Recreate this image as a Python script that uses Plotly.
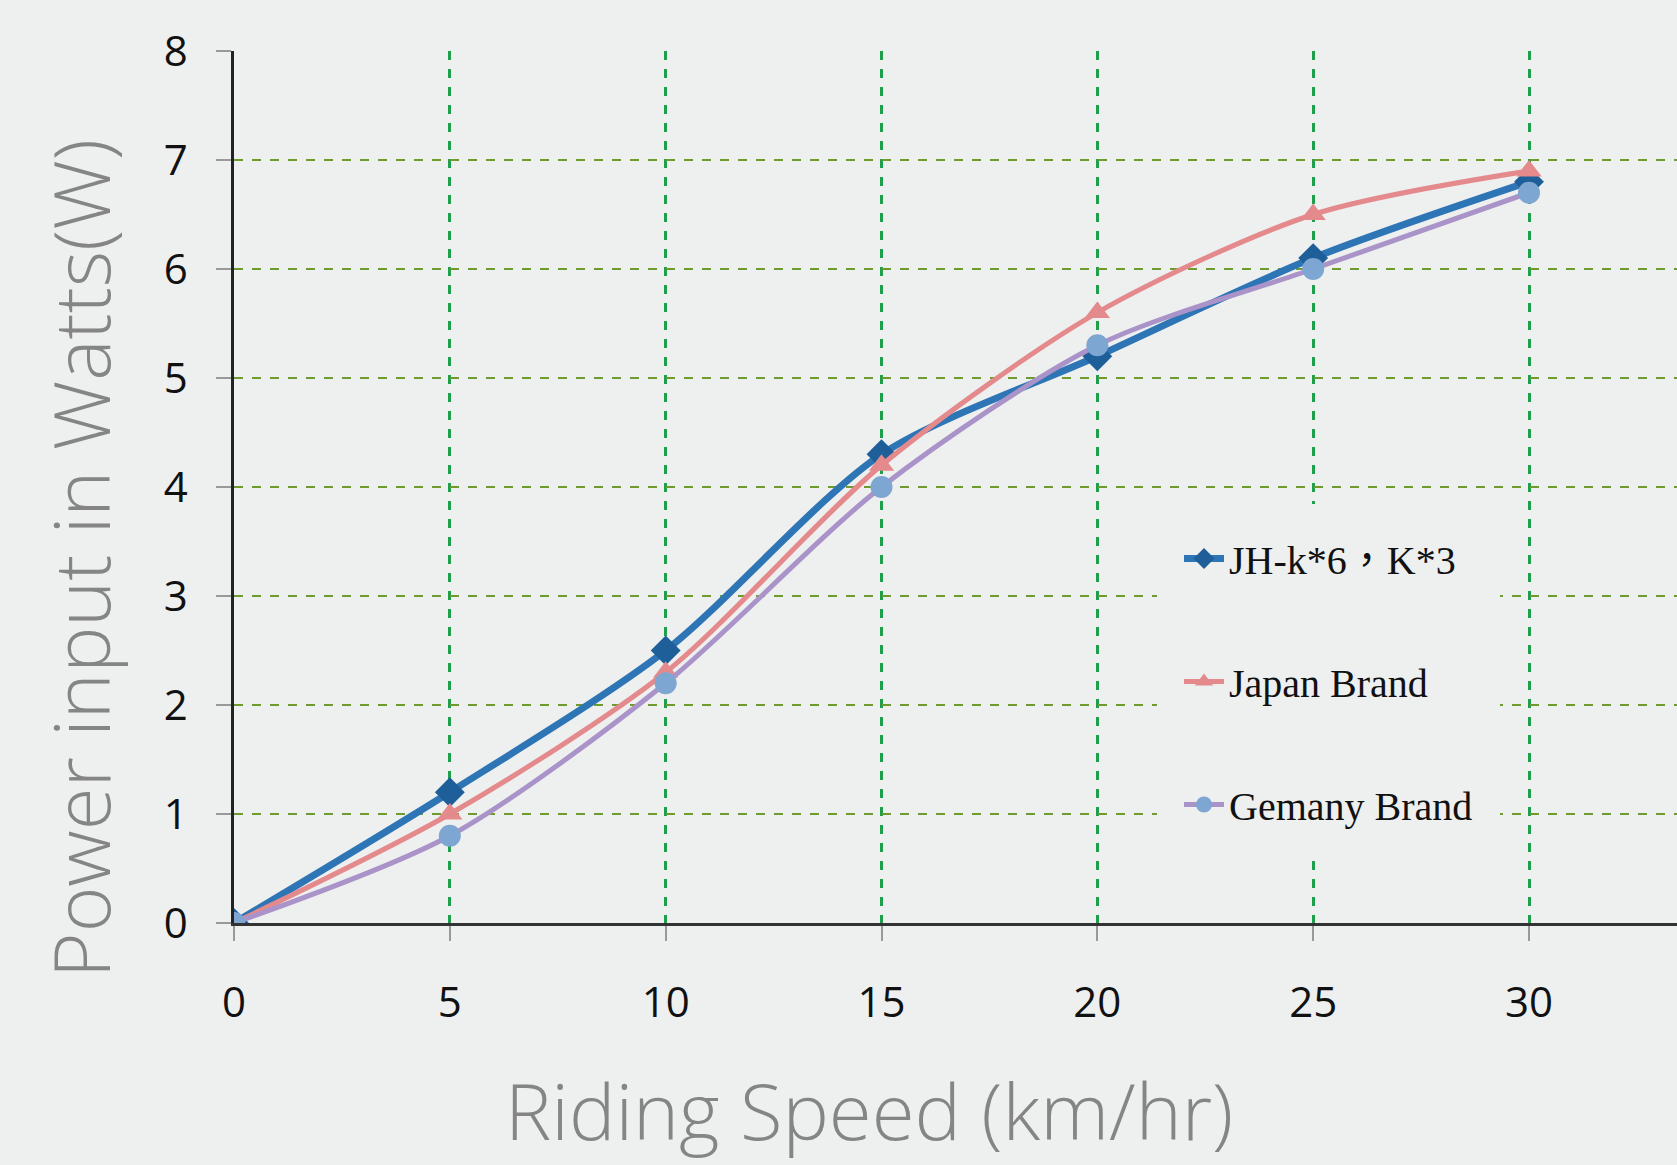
import plotly.graph_objects as go

speed = [0, 5, 10, 15, 20, 25, 30]
jh_power = [0, 1.2, 2.5, 4.3, 5.2, 6.1, 6.8]
japan_power = [0, 1.0, 2.3, 4.2, 5.6, 6.5, 6.9]
germany_power = [0, 0.8, 2.2, 4.0, 5.3, 6.0, 6.7]
names = ["JH-k*6，K*3", "Japan Brand", "Gemany Brand"]
x_ticks = [0, 5, 10, 15, 20, 25, 30]
y_ticks = [0, 1, 2, 3, 4, 5, 6, 7, 8]
y_grid = [1, 2, 3, 4, 5, 6, 7]

BG = "#eeefef"
W, H = 1677, 1165
ML, MR, MT, MB = 234, 0, 51, 242
PW, PH = W - ML - MR, H - MT - MB
XMAX = 30 * PW / (1529 - ML)

fig = go.Figure()
# invisible trace to activate the horizontal-grid axis
fig.add_trace(go.Scatter(x=[0], y=[0], yaxis="y2", mode="markers",
                         marker=dict(opacity=0), showlegend=False, hoverinfo="skip"))
fig.add_trace(go.Scatter(
    x=speed, y=jh_power, name=names[0], mode="lines+markers",
    line=dict(color="#2e75b6", width=7, shape="spline", smoothing=0.8),
    marker=dict(symbol="diamond", size=23, color="#1f5f99"),
    legendgroup="a"))
fig.add_trace(go.Scatter(
    x=speed, y=japan_power, name=names[1], mode="lines+markers",
    line=dict(color="#e48a8c", width=5, shape="spline", smoothing=0.8),
    marker=dict(symbol="triangle-up", size=22, color="#e48a8c"),
    legendgroup="b"))
fig.add_trace(go.Scatter(
    x=speed, y=germany_power, name=names[2], mode="lines+markers",
    line=dict(color="#a993c8", width=5, shape="spline", smoothing=0.8),
    marker=dict(symbol="circle", size=22, color="#7ea6d2"),
    legendgroup="c"))

fig.update_layout(
    width=W, height=H,
    margin=dict(l=ML, r=MR, t=MT, b=MB),
    paper_bgcolor=BG, plot_bgcolor=BG,
    showlegend=True,
    legend=dict(
        x=(1157 - ML) / PW, xanchor="left",
        y=(923 - 504) / PH, yanchor="top",
        bgcolor=BG, bordercolor=BG, borderwidth=22,
        traceorder="grouped", tracegroupgap=68,
        font=dict(family="Liberation Serif, Noto Sans CJK TC", size=40, color="#111111"),
        itemwidth=40,
    ),
    xaxis=dict(
        range=[0, XMAX], tickmode="array", tickvals=x_ticks,
        showgrid=True, gridcolor="#1f9e4c", griddash="dash", gridwidth=3,
        zeroline=False, showline=True, linecolor="#333333", linewidth=2.5,
        ticks="outside", ticklen=15, tickcolor="#999999", tickwidth=1.5,
        ticklabelstandoff=26,
        tickfont=dict(family="Open Sans", size=42, color="#111111"),
    ),
    yaxis=dict(
        range=[0, 8], tickmode="array", tickvals=y_ticks,
        showgrid=False, zeroline=False,
        showline=True, linecolor="#222222", linewidth=2.5,
        ticks="outside", ticklen=15, tickcolor="#999999", tickwidth=1.5,
        ticklabelstandoff=20,
        tickfont=dict(family="Open Sans", size=42, color="#111111"),
    ),
    yaxis2=dict(
        range=[0, 8], overlaying="y", tickmode="array", tickvals=y_grid,
        showgrid=True, gridcolor="#6e9a2e", griddash="dash", gridwidth=2,
        showticklabels=False, zeroline=False, showline=False, ticks="",
    ),
    annotations=[
        dict(text="Power input in Watts(W)", textangle=-90,
             x=(80 - ML) / PW, y=(923 - 559) / PH,
             xref="paper", yref="paper", showarrow=False,
             xanchor="center", yanchor="middle",
             font=dict(family="Open Sans", size=78, color="#858585", weight=300)),
        dict(text="Riding Speed (km/hr)",
             x=(869 - ML) / PW, y=(923 - 1110) / PH,
             xref="paper", yref="paper", showarrow=False,
             xanchor="center", yanchor="middle",
             font=dict(family="Open Sans", size=78, color="#858585", weight=300)),
    ],
)

fig.write_html(
    "out.html",
    config={"displayModeBar": False},
    post_script="document.body.style.margin='0';document.body.style.background='#eeefef';document.body.style.overflow='hidden';",
)
